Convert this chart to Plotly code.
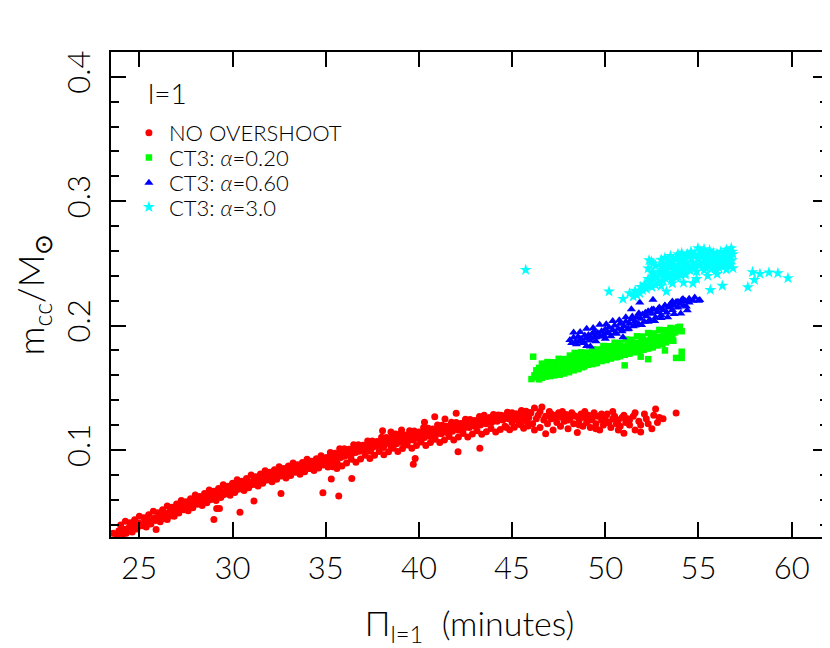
import plotly.graph_objects as go

# values (period in minutes, core mass in Msun)
# red: models without overshooting; core of the band, its upper and lower edge, and the stragglers
red_x = [23.6, 23.8, 23.9, 24.1, 24.2, 24.3, 24.4, 24.6, 24.7, 24.9, 25.0, 25.2, 25.3, 25.5, 25.6, 25.8, 25.9, 26.0,
         26.1, 26.3, 26.4, 26.5, 26.6, 26.7, 26.8, 26.9, 27.0, 27.1, 27.2, 27.3, 27.4, 27.5, 27.6, 27.7, 27.8, 27.9,
         28.0, 28.1, 28.2, 28.3, 28.4, 28.5, 28.6, 28.7, 28.8, 28.9, 29.0, 29.0, 29.15, 29.3, 29.1, 29.2, 29.3, 29.4,
         29.5, 29.6, 29.7, 29.8, 29.9, 30.0, 30.1, 30.2, 30.4, 30.3, 30.4, 30.5, 30.6, 30.7, 30.8, 30.9, 31.0, 31.15,
         31.1, 31.2, 31.3, 31.4, 31.5, 31.6, 31.7, 31.8, 31.9, 32.0, 32.1, 32.2, 32.3, 32.4, 32.5, 32.6, 32.6, 32.7,
         32.8, 32.9, 33.0, 33.1, 33.2, 33.3, 33.4, 33.5, 33.6, 33.7, 33.8, 33.9, 34.0, 34.1, 34.2, 34.3, 34.4, 34.5,
         34.6, 34.7, 34.85, 34.8, 34.9, 35.0, 35.1, 35.2, 35.3, 35.3, 35.4, 35.5, 35.6, 35.7, 35.7, 35.8, 35.9, 36.0,
         36.1, 36.2, 36.3, 36.4, 36.4, 36.5, 36.6, 36.7, 36.8, 36.9, 37.0, 37.1, 37.2, 37.3, 37.4, 37.5, 37.6, 37.7,
         37.8, 37.9, 38.05, 38.0, 38.1, 38.2, 38.3, 38.4, 38.5, 38.5, 38.6, 38.7, 38.8, 38.9, 39.07, 39.0, 39.1, 39.2,
         39.3, 39.4, 39.5, 39.6, 39.7, 39.8, 39.7, 39.8, 39.9, 40.0, 40.1, 40.2, 40.3, 40.3, 40.4, 40.5, 40.6, 40.7,
         40.85, 40.8, 40.9, 41.0, 41.1, 41.2, 41.3, 41.4, 41.4, 41.5, 41.6, 41.7, 41.8, 41.9, 42.0, 42.0, 42.1, 42.1,
         42.2, 42.3, 42.4, 42.5, 42.6, 42.7, 42.8, 42.9, 43.0, 43.1, 43.27, 43.2, 43.3, 43.4, 43.5, 43.5, 43.6, 43.7,
         43.8, 43.9, 44.0, 44.1, 44.2, 44.3, 44.4, 44.5, 44.6, 44.7, 44.8, 44.9, 45.0, 45.1, 45.2, 45.3, 45.4, 45.5,
         45.6, 45.7, 45.8, 45.9, 46.0, 46.1, 46.2, 46.3, 46.4, 46.5, 46.6, 46.7, 46.8, 46.9, 47.0, 47.1, 47.2, 47.3,
         47.4, 47.5, 47.6, 47.7, 47.8, 47.9, 48.0, 48.1, 48.2, 48.3, 48.4, 48.5, 48.6, 48.7, 48.8, 48.9, 49.0, 49.1,
         49.2, 49.3, 49.4, 49.5, 49.6, 49.7, 49.8, 49.9, 50.0, 50.1, 50.2, 50.3, 50.4, 50.5, 50.6, 50.7, 50.8, 50.9,
         51.0, 51.1, 51.2, 51.3, 51.5, 51.6, 51.8, 51.9, 52.1, 52.3, 52.6, 52.9, 53.8,
         # upper edge
         24.0, 24.25, 24.5, 24.75, 25.0, 25.25, 25.5, 25.75, 26.0, 26.25, 26.5, 26.75, 27.0, 27.25, 27.5, 27.75,
         28.0, 28.25, 28.5, 28.75, 29.0, 29.25, 29.5, 29.75, 30.0, 30.25, 30.5, 30.75, 31.0, 31.25, 31.5, 31.75,
         32.0, 32.25, 32.5, 32.75, 33.0, 33.25, 33.5, 33.75, 34.0, 34.25, 34.5, 34.75, 35.0, 35.25, 35.5, 35.75,
         36.0, 36.25, 36.5, 36.75, 37.0, 37.25, 37.5, 37.75, 38.0, 38.25, 38.5, 38.75, 39.0, 39.25, 39.5, 39.75,
         40.0, 40.25, 40.5, 40.75, 41.0, 41.25, 41.5, 41.75, 42.0, 42.25, 42.5, 42.75, 43.0, 43.25, 43.5, 43.75,
         44.0, 44.25, 44.5, 44.75, 45.0, 45.25, 45.5, 45.75, 46.0,
         # lower edge
         24.12, 24.37, 24.62, 24.87, 25.12, 25.37, 25.62, 25.87, 26.12, 26.37, 26.62, 26.87, 27.12, 27.37, 27.62,
         27.87, 28.12, 28.37, 28.62, 28.87, 29.12, 29.37, 29.62, 29.87, 30.12, 30.37, 30.62, 30.87, 31.12, 31.37,
         31.62, 31.87, 32.12, 32.37, 32.62, 32.87, 33.12, 33.37, 33.62, 33.87, 34.12, 34.37, 34.62, 34.87, 35.12,
         35.37, 35.62, 35.87, 36.12, 36.37, 36.62, 36.87, 37.12, 37.37, 37.62, 37.87, 38.12, 38.37, 38.62, 38.87,
         39.12, 39.37, 39.62, 39.87, 40.12, 40.37, 40.62, 40.87, 41.12, 41.37, 41.62, 41.87, 42.12, 42.37, 42.62,
         42.87, 43.12, 43.37, 43.62, 43.87, 44.12, 44.37, 44.62, 44.87, 45.12, 45.37, 45.62, 45.87,
         # the wide tail beyond 46 min
         46.2, 46.5, 46.8, 47.1, 47.4, 47.7, 48.0, 48.3, 48.6, 48.9, 49.2, 49.5, 49.8, 50.1, 50.4, 50.7, 51.0, 51.3,
         51.6, 51.9, 52.2, 52.5, 52.8, 53.1, 52.7]
red_y = [0.033, 0.031, 0.035, 0.034, 0.036, 0.033, 0.037, 0.036, 0.040, 0.038, 0.041, 0.039, 0.042, 0.043, 0.041, 0.045,
         0.036, 0.044, 0.047, 0.046, 0.049, 0.044, 0.050, 0.047, 0.052, 0.050, 0.054, 0.051, 0.053, 0.056, 0.052, 0.055,
         0.057, 0.054, 0.059, 0.056, 0.058, 0.061, 0.057, 0.060, 0.062, 0.059, 0.061, 0.063, 0.060, 0.064, 0.062, 0.044,
         0.053, 0.053, 0.066, 0.063, 0.065, 0.067, 0.064, 0.066, 0.068, 0.065, 0.069, 0.067, 0.070, 0.068, 0.050, 0.071,
         0.069, 0.072, 0.070, 0.073, 0.071, 0.074, 0.072, 0.059, 0.075, 0.073, 0.076, 0.074, 0.077, 0.075, 0.078, 0.076,
         0.079, 0.077, 0.080, 0.078, 0.081, 0.079, 0.082, 0.065, 0.080, 0.083, 0.081, 0.084, 0.082, 0.085, 0.083, 0.086,
         0.084, 0.087, 0.085, 0.083, 0.088, 0.086, 0.089, 0.087, 0.085, 0.090, 0.088, 0.091, 0.089, 0.092, 0.0655, 0.090,
         0.093, 0.091, 0.094, 0.092, 0.0766, 0.090, 0.095, 0.093, 0.085, 0.063, 0.096, 0.094, 0.097, 0.095, 0.098, 0.096,
         0.099, 0.0771, 0.097, 0.100, 0.098, 0.101, 0.099, 0.102, 0.100, 0.103, 0.101, 0.104, 0.099, 0.102, 0.105, 0.103,
         0.106, 0.104, 0.1155, 0.107, 0.102, 0.105, 0.108, 0.106, 0.1144, 0.103, 0.107, 0.109, 0.105, 0.108, 0.116, 0.110,
         0.106, 0.109, 0.111, 0.107, 0.110, 0.112, 0.0884, 0.0932, 0.108, 0.111, 0.113, 0.109, 0.112, 0.114, 0.1222, 0.110,
         0.113, 0.115, 0.111, 0.114, 0.1267, 0.116, 0.112, 0.115, 0.117, 0.113, 0.116, 0.1249, 0.118, 0.114, 0.117, 0.119,
         0.115, 0.118, 0.1295, 0.120, 0.0986, 0.116, 0.119, 0.121, 0.117, 0.120, 0.122, 0.118, 0.121, 0.123, 0.119, 0.122,
         0.1013, 0.124, 0.120, 0.123, 0.128, 0.125, 0.121, 0.124, 0.126, 0.122, 0.125, 0.127, 0.123, 0.126, 0.128, 0.124,
         0.127, 0.118, 0.125, 0.128, 0.122, 0.126, 0.129, 0.124, 0.127, 0.120, 0.125, 0.128, 0.123, 0.126, 0.130, 0.121,
         0.1337, 0.125, 0.128, 0.118, 0.1345, 0.124, 0.127, 0.121, 0.131, 0.125, 0.116, 0.128, 0.122, 0.130, 0.119, 0.126,
         0.123, 0.1285, 0.117, 0.125, 0.130, 0.121, 0.127, 0.114, 0.124, 0.129, 0.119, 0.126, 0.122, 0.128, 0.118, 0.125,
         0.130, 0.121, 0.127, 0.116, 0.124, 0.120, 0.126, 0.129, 0.122, 0.118, 0.125, 0.127, 0.121, 0.124, 0.119, 0.126,
         0.1135, 0.122, 0.125, 0.120, 0.127, 0.116, 0.123, 0.1145, 0.129, 0.121, 0.128, 0.126, 0.1297,
         # upper edge
         0.0397, 0.0426, 0.0414, 0.0438, 0.0466, 0.0455, 0.0478, 0.0507, 0.0495, 0.0520, 0.0550, 0.0540, 0.0565, 0.0594,
         0.0584, 0.0608, 0.0637, 0.0626, 0.0650, 0.0678, 0.0667, 0.0691, 0.0720, 0.0708, 0.0732, 0.0760, 0.0748, 0.0770,
         0.0798, 0.0785, 0.0807, 0.0833, 0.0820, 0.0840, 0.0865, 0.0850, 0.0870, 0.0895, 0.0880, 0.0900, 0.0925, 0.0910,
         0.0929, 0.0954, 0.0938, 0.0979, 0.0974, 0.1010, 0.1010, 0.1006, 0.1041, 0.1042, 0.1037, 0.1072, 0.1072, 0.1067,
         0.1102, 0.1101, 0.1095, 0.1129, 0.1128, 0.1121, 0.1154, 0.1152, 0.1145, 0.1178, 0.1175, 0.1168, 0.1200, 0.1198,
         0.1190, 0.1223, 0.1220, 0.1213, 0.1246, 0.1244, 0.1237, 0.1268, 0.1264, 0.1255, 0.1286, 0.1282, 0.1273, 0.1304,
         0.1300, 0.1289, 0.1318, 0.1311, 0.1300,
         # lower edge
         0.0323, 0.0352, 0.0341, 0.0364, 0.0392, 0.0381, 0.0404, 0.0433, 0.0422, 0.0447, 0.0477, 0.0467, 0.0492, 0.0521,
         0.0511, 0.0535, 0.0564, 0.0553, 0.0576, 0.0605, 0.0594, 0.0618, 0.0646, 0.0635, 0.0658, 0.0686, 0.0674, 0.0696,
         0.0724, 0.0711, 0.0732, 0.0759, 0.0745, 0.0765, 0.0790, 0.0775, 0.0795, 0.0820, 0.0805, 0.0825, 0.0850, 0.0835,
         0.0854, 0.0878, 0.0863, 0.0864, 0.0894, 0.0870, 0.0895, 0.0926, 0.0901, 0.0927, 0.0957, 0.0932, 0.0957, 0.0987,
         0.0961, 0.0985, 0.1014, 0.0988, 0.1012, 0.1040, 0.1013, 0.1036, 0.1064, 0.1036, 0.1059, 0.1086, 0.1059, 0.1081,
         0.1109, 0.1081, 0.1104, 0.1132, 0.1105, 0.1128, 0.1155, 0.1126, 0.1147, 0.1173, 0.1144, 0.1165, 0.1191, 0.1162,
         0.1182, 0.1206, 0.1175, 0.1193,
         # the wide tail beyond 46 min
         0.116, 0.131, 0.113, 0.129, 0.126, 0.131, 0.124, 0.128, 0.120, 0.131, 0.124, 0.117, 0.129, 0.122, 0.131, 0.116,
         0.128, 0.124, 0.130, 0.120, 0.125, 0.117, 0.122, 0.125, 0.133]

green_x = [46.04, 46.13, 46.2, 46.3, 46.35, 46.4, 46.45, 46.5, 46.55, 46.6, 46.65, 46.7, 46.75, 46.8, 46.85, 46.9,
           46.95, 47.0, 47.05, 47.1, 47.15, 47.2, 47.25, 47.3, 47.35, 47.4, 47.45, 47.5, 47.55, 47.6, 47.65, 47.7,
           47.75, 47.8, 47.85, 47.9, 47.95, 48.0, 48.05, 48.1, 48.15, 48.2, 48.25, 48.36, 48.3, 48.35, 48.4, 48.45,
           48.5, 48.55, 48.6, 48.65, 48.7, 48.75, 48.8, 48.85, 48.9, 48.95, 49.0, 49.05, 49.1, 49.15, 49.2, 49.25,
           49.3, 49.35, 49.4, 49.45, 49.5, 49.55, 49.6, 49.65, 49.7, 49.75, 49.8, 49.85, 49.9, 49.95, 50.0, 50.05,
           50.1, 50.15, 50.2, 50.25, 50.3, 50.35, 50.4, 50.45, 50.5, 50.55, 50.6, 50.65, 50.7, 50.75, 50.8, 50.85,
           50.9, 50.95, 51.04, 51.0, 51.05, 51.1, 51.15, 51.2, 51.25, 51.3, 51.35, 51.4, 51.45, 51.5, 51.55, 51.6,
           51.65, 51.7, 51.75, 51.8, 51.9, 51.85, 51.9, 51.95, 52.0, 52.05, 52.1, 52.15, 52.2, 52.3, 52.25, 52.3,
           52.35, 52.4, 52.45, 52.5, 52.55, 52.6, 52.65, 52.7, 52.75, 52.8, 52.85, 52.9, 52.95, 53.0, 53.05, 53.1,
           53.15, 53.2, 53.2, 53.25, 53.3, 53.35, 53.4, 53.45, 53.5, 53.6, 53.55, 53.6, 53.7, 53.75, 53.8, 53.8,
           53.9, 54.0, 54.1, 54.1, 54.1,
           46.6, 46.9, 47.2, 47.5, 47.8, 48.1, 48.4, 48.7, 49.0, 49.3, 49.6, 49.9, 50.2, 50.5, 50.8, 51.1, 51.4, 51.7,
           52.0, 52.3, 52.6, 52.9, 53.2, 53.5,
           46.45, 46.75, 47.05, 47.35, 47.65, 47.95, 48.25, 48.55, 48.85, 49.15, 49.45, 49.75, 50.05, 50.35, 50.65,
           50.95, 51.25, 51.55, 51.85, 52.15, 52.45, 52.75, 53.05, 53.35, 53.65]
green_y = [0.157, 0.175, 0.160, 0.164, 0.1585, 0.162, 0.166, 0.160, 0.1635, 0.158, 0.167, 0.161, 0.1645, 0.159, 0.1665,
           0.162, 0.1605, 0.165, 0.168, 0.1615, 0.164, 0.1665, 0.160, 0.163, 0.169, 0.1625, 0.166, 0.164, 0.1605, 0.1675,
           0.163, 0.170, 0.165, 0.1615, 0.168, 0.1645, 0.171, 0.166, 0.1625, 0.169, 0.1655, 0.172, 0.167, 0.178, 0.164,
           0.1705, 0.1675, 0.173, 0.1685, 0.165, 0.1715, 0.1695, 0.174, 0.1665, 0.1705, 0.1725, 0.168, 0.175, 0.1715,
           0.1685, 0.1735, 0.170, 0.176, 0.1725, 0.169, 0.1745, 0.171, 0.177, 0.1735, 0.170, 0.1755, 0.1725, 0.178,
           0.1745, 0.1715, 0.1765, 0.1735, 0.179, 0.1755, 0.1725, 0.1775, 0.1745, 0.180, 0.1765, 0.1735, 0.1785, 0.1755,
           0.181, 0.1775, 0.1745, 0.1795, 0.1765, 0.182, 0.1785, 0.1755, 0.1805, 0.1775, 0.183, 0.168, 0.1795, 0.1765,
           0.1815, 0.1785, 0.184, 0.1805, 0.1775, 0.1825, 0.1795, 0.185, 0.1815, 0.1785, 0.1835, 0.1805, 0.186, 0.1825,
           0.1795, 0.175, 0.1845, 0.1815, 0.187, 0.1835, 0.1805, 0.1855, 0.1825, 0.188, 0.173, 0.1845, 0.1815, 0.1865,
           0.1835, 0.189, 0.1855, 0.1825, 0.1875, 0.1845, 0.190, 0.1865, 0.184, 0.1885, 0.1855, 0.191, 0.1875, 0.185,
           0.1895, 0.1925, 0.180, 0.189, 0.1865, 0.1935, 0.191, 0.1885, 0.195, 0.192, 0.1885, 0.1965, 0.1935, 0.1975,
           0.1945, 0.174, 0.196, 0.1985, 0.199, 0.179, 0.174, 0.1955,
           0.1694, 0.1707, 0.1705, 0.1733, 0.1731, 0.1759, 0.1757, 0.1785, 0.1783, 0.1810, 0.1808, 0.1836, 0.1834, 0.1862,
           0.1860, 0.1888, 0.1886, 0.1914, 0.1912, 0.1940, 0.1937, 0.1965, 0.1963, 0.1981,
           0.1568, 0.1596, 0.1594, 0.1622, 0.1620, 0.1647, 0.1645, 0.1673, 0.1671, 0.1699, 0.1697, 0.1725, 0.1723, 0.1751,
           0.1749, 0.1777, 0.1775, 0.1802, 0.1800, 0.1828, 0.1826, 0.1854, 0.1852, 0.1880, 0.1878]

blue_x = [48.1, 48.2, 48.3, 48.4, 48.54, 48.6, 48.7, 48.8, 48.9, 49.0, 49.0, 49.1, 49.2, 49.2, 49.3, 49.43, 49.4, 49.5,
          49.6, 49.7, 49.8, 49.9, 50.0, 50.0, 50.1, 50.2, 50.3, 50.4, 50.5, 50.6, 50.7, 50.8, 50.95, 50.9, 51.0, 51.1,
          51.2, 51.3, 51.4, 51.4, 51.5, 51.6, 51.7, 51.85, 51.8, 51.9, 52.0, 52.1, 52.2, 52.3, 52.4, 52.56, 52.5, 52.6,
          52.7, 52.8, 52.9, 53.0, 53.1, 53.2, 53.3, 53.4, 53.6, 53.5, 53.6, 53.7, 53.8, 53.9, 54.0, 54.17, 54.1, 54.2,
          54.35, 54.3, 54.5, 54.5, 54.7, 54.8, 55.0, 55.07,
          48.3, 48.65, 49.0, 49.35, 49.7, 50.05, 50.4, 50.75, 51.1, 51.45, 51.8, 52.15, 52.5, 52.85, 53.2, 53.55, 53.9,
          54.25,
          48.45, 48.8, 49.15, 49.5, 49.85, 50.2, 50.55, 50.9, 51.25, 51.6, 51.95, 52.3, 52.65, 53.0, 53.35, 53.7, 54.05,
          54.4]
blue_y = [0.1885, 0.186, 0.1905, 0.187, 0.191, 0.1875, 0.1895, 0.186, 0.192, 0.190, 0.1835, 0.1925, 0.1831, 0.1895,
          0.1935, 0.1952, 0.1905, 0.1875, 0.194, 0.1915, 0.1955, 0.1925, 0.197, 0.1895, 0.1945, 0.1985, 0.1915, 0.1965,
          0.200, 0.1935, 0.1975, 0.2015, 0.1907, 0.1955, 0.1995, 0.203, 0.197, 0.2015, 0.2132, 0.205, 0.1995, 0.2035,
          0.207, 0.2185, 0.201, 0.2055, 0.209, 0.203, 0.2075, 0.2115, 0.2045, 0.2207, 0.2095, 0.213, 0.2065, 0.211,
          0.2145, 0.2085, 0.2125, 0.216, 0.2105, 0.2145, 0.2193, 0.2175, 0.2125, 0.216, 0.219, 0.2145, 0.2175, 0.2213,
          0.2205, 0.216, 0.2153, 0.2195, 0.2185, 0.2215, 0.220, 0.2225, 0.220, 0.2206,
          0.1944, 0.1949, 0.1975, 0.1980, 0.2006, 0.2011, 0.2037, 0.2042, 0.2068, 0.2073, 0.2099, 0.2104, 0.2130, 0.2135,
          0.2161, 0.2166, 0.2192, 0.2197,
          0.1850, 0.1876, 0.1881, 0.1907, 0.1912, 0.1938, 0.1943, 0.1969, 0.1974, 0.2000, 0.2005, 0.2031, 0.2036, 0.2062,
          0.2067, 0.2093, 0.2098, 0.2124]

cyan_x = [45.73, 50.2, 50.95, 51.3, 51.5, 51.6, 51.7, 51.85, 51.9, 52.0, 52.1, 52.2, 52.3, 52.35, 52.4, 52.47, 52.5,
          52.56, 52.56, 52.6, 52.7, 52.8, 52.9, 53.0, 53.0, 53.1, 53.15, 53.28, 53.2, 53.2, 53.3, 53.35, 53.4, 53.5,
          53.5, 53.55, 53.6, 53.65, 53.7, 53.8, 53.85, 53.9, 53.9, 54.0, 54.05, 54.1, 54.15, 54.2, 54.3, 54.35, 54.4,
          54.5, 54.55, 54.6, 54.7, 54.7, 54.8, 54.85, 54.97, 55.0, 55.05, 55.1, 55.2, 55.25, 55.3, 55.4, 55.45, 55.5,
          55.6, 55.64, 55.65, 55.7, 55.8, 55.9, 55.96, 55.96, 56.0, 56.1, 56.2, 56.28, 56.3, 56.4, 56.45, 56.5, 56.55,
          56.6, 56.65, 56.7, 56.76, 56.8, 56.85, 56.85, 57.65, 57.9, 58.0, 58.3, 58.78, 59.26, 59.8,
          52.3, 52.7, 53.1, 53.5, 53.9, 54.3,
          52.5, 52.9, 53.3, 53.7, 54.1, 54.5, 54.9, 55.3, 55.7, 56.1, 56.5,
          52.7, 53.1, 53.5, 53.9, 54.3, 54.7, 55.1, 55.5, 55.9, 56.3, 56.7,
          53.0, 53.4, 53.8, 54.2, 54.6, 55.0, 55.4, 55.8, 56.2, 56.6,
          54.0, 54.4, 54.8, 55.2, 55.6, 56.0, 56.4, 56.8,
          52.4, 53.0, 53.6, 54.2, 54.9, 55.5, 56.0]
cyan_y = [0.2448, 0.2274, 0.2215, 0.226, 0.2234, 0.228, 0.2245, 0.2261, 0.231, 0.2285, 0.233, 0.2295, 0.246, 0.2525,
          0.235, 0.2515, 0.231, 0.250, 0.242, 0.237, 0.2325, 0.239, 0.2345, 0.241, 0.2475, 0.236, 0.2435, 0.2274,
          0.2385, 0.2545, 0.245, 0.2505, 0.2405, 0.247, 0.256, 0.2365, 0.2525, 0.2425, 0.249, 0.2385, 0.2545, 0.2445,
          0.2575, 0.251, 0.2405, 0.2583, 0.2465, 0.2535, 0.2425, 0.2565, 0.2485, 0.2555, 0.2445, 0.2595, 0.234, 0.251,
          0.2575, 0.2465, 0.2623, 0.2535, 0.2485, 0.2595, 0.2555, 0.2505, 0.2615, 0.2465, 0.2575, 0.2525, 0.2605,
          0.2287, 0.2545, 0.2495, 0.2585, 0.2525, 0.2569, 0.2448, 0.2555, 0.2505, 0.2595, 0.232, 0.2535, 0.2575,
          0.2485, 0.261, 0.2545, 0.2505, 0.2595, 0.2555, 0.2623, 0.2525, 0.2462, 0.2575, 0.2309, 0.243, 0.2368, 0.2416,
          0.2427, 0.2422, 0.2382,
          0.2375, 0.2385, 0.2390, 0.2400, 0.2395, 0.2410,
          0.2430, 0.2435, 0.2425, 0.2445, 0.2440, 0.2450, 0.2435, 0.2445, 0.2455, 0.2465, 0.2450,
          0.2480, 0.2490, 0.2475, 0.2485, 0.2495, 0.2480, 0.2490, 0.2485, 0.2495, 0.2480, 0.2490,
          0.2530, 0.2520, 0.2535, 0.2525, 0.2540, 0.2530, 0.2535, 0.2520, 0.2535, 0.2530,
          0.2560, 0.2575, 0.2565, 0.2580, 0.2570, 0.2575, 0.2585, 0.2595,
          0.2330, 0.2320, 0.2340, 0.2345, 0.2375, 0.2400, 0.2415]

series = [
    ("NO OVERSHOOT", red_x, red_y, "circle", 7, "rgb(255,0,0)"),
    ("CT3: <i>α</i>=0.20", green_x, green_y, "square", 6.5, "rgb(0,255,0)"),
    ("CT3: <i>α</i>=0.60", blue_x, blue_y, "triangle-up", 8, "rgb(0,0,255)"),
    ("CT3: <i>α</i>=3.0", cyan_x, cyan_y, "star", 9, "rgb(0,255,255)"),
]
legend_rows = [0.833, 0.782, 0.730, 0.680]

font_main = "Lato"

fig = go.Figure()
for i, (name, xs, ys, sym, size, col) in enumerate(series):
    leg = "legend" if i == 0 else "legend{}".format(i + 1)
    fig.add_trace(go.Scatter(x=xs, y=ys, mode="markers", name=name, legend=leg,
                             marker=dict(symbol=sym, size=size, color=col, line=dict(width=0))))

legends = {}
for i, yy in enumerate(legend_rows):
    key = "legend" if i == 0 else "legend{}".format(i + 1)
    legends[key] = dict(x=0.025, y=yy, xanchor="left", yanchor="middle", bgcolor="rgba(0,0,0,0)",
                        borderwidth=0, font=dict(family=font_main, size=22, color="black", weight=300),
                        itemsizing="trace")

# page body adds 8px, so the figure is 822x640 to land on the 830x648 window
fig.update_layout(
    width=822, height=640,
    margin=dict(l=103, r=2, t=44, b=111),
    paper_bgcolor="white", plot_bgcolor="white",
    font=dict(family=font_main, color="black", weight=300),
    showlegend=True,
    **legends,
)
fig.add_annotation(text="l=1", x=0.049, y=0.916, xref="paper", yref="paper", xanchor="left", yanchor="middle",
                   showarrow=False, font=dict(family=font_main, size=28, color="black", weight=300))

fig.update_xaxes(range=[23.48, 61.95], dtick=5, tick0=0, showgrid=False, zeroline=False, automargin=False,
                 showline=True, linecolor="black", linewidth=2, mirror="ticks",
                 ticks="inside", ticklen=15, tickwidth=2, tickcolor="black",
                 ticklabelstandoff=3, tickfont=dict(size=31, weight=300),
                 title=dict(text="Π<sub>l=1</sub>  (minutes)", font=dict(size=34, weight=300), standoff=36))
fig.update_yaxes(range=[0.030, 0.420], dtick=0.1, tick0=0, showgrid=False, zeroline=False, automargin=False,
                 showline=True, linecolor="black", linewidth=2, mirror="ticks",
                 ticks="inside", ticklen=15, tickwidth=2, tickcolor="black",
                 minor=dict(dtick=0.02, ticks="inside", ticklen=8, tickwidth=2, tickcolor="black"),
                 tickangle=-90, ticklabelstandoff=7, tickfont=dict(size=31, weight=300),
                 title=dict(text="m<sub>cc</sub>/M<sub>⊙</sub>", font=dict(size=36, weight=300), standoff=15))

fig.write_html("out.html")
